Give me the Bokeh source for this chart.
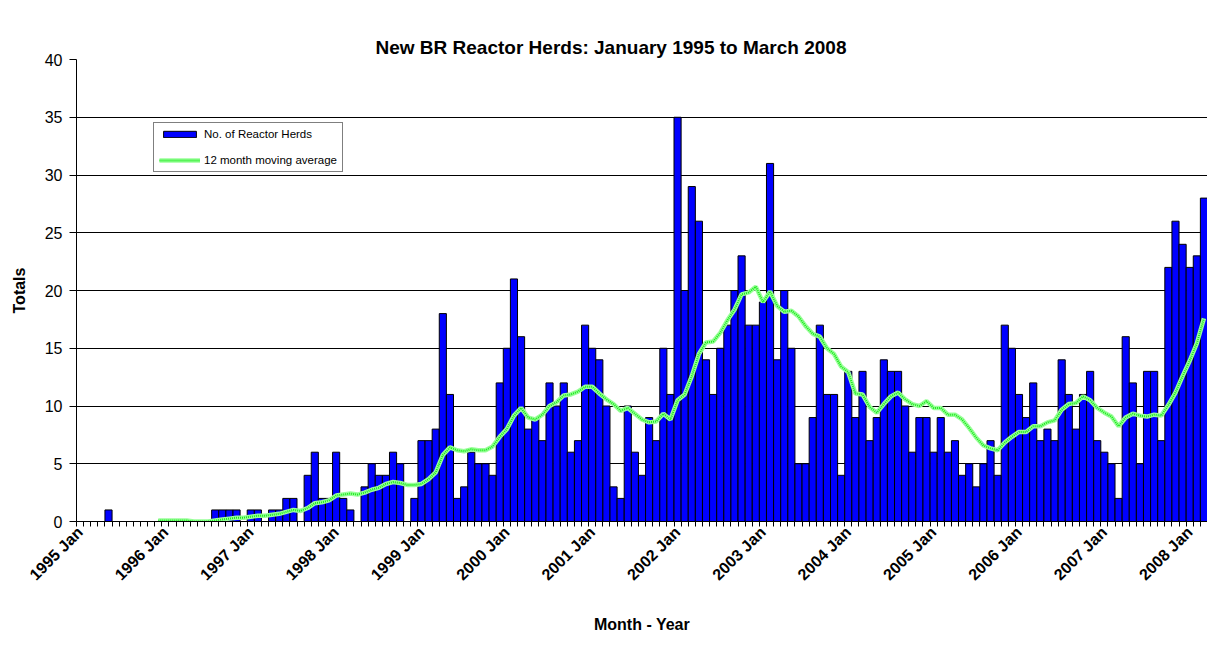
import math
import numpy as np
import pandas as pd
from bokeh.plotting import figure
from bokeh.models import (Range1d, FixedTicker, Legend, LegendItem, ColumnDataSource, Title,
                          LinearAxis)
from bokeh.embed import file_html
from bokeh.resources import INLINE

# ---------------- data ----------------
tick_years = list(range(1995, 2009))
tick_labels = [f"{y} Jan" for y in tick_years]

# monthly new BR reactor herds, Jan 1995 .. Mar 2008
herds_1995 = [0, 0, 0, 0, 1, 0, 0, 0, 0, 0, 0, 0]
herds_1996 = [0, 0, 0, 0, 0, 0, 0, 1, 1, 1, 1, 0]
herds_1997 = [1, 1, 0, 1, 1, 2, 2, 0, 4, 6, 2, 2]
herds_1998 = [6, 2, 1, 0, 3, 5, 4, 4, 6, 5, 0, 2]
herds_1999 = [7, 7, 8, 18, 11, 2, 3, 6, 5, 5, 4, 12]
herds_2000 = [15, 21, 16, 8, 9, 7, 12, 10, 12, 6, 7, 17]
herds_2001 = [15, 14, 10, 3, 2, 10, 6, 4, 9, 7, 15, 11]
herds_2002 = [35, 20, 29, 26, 14, 11, 15, 17, 20, 23, 17, 17]
herds_2003 = [19, 31, 14, 20, 15, 5, 5, 9, 17, 11, 11, 4]
herds_2004 = [13, 9, 13, 7, 9, 14, 13, 13, 10, 6, 9, 9]
herds_2005 = [6, 9, 6, 7, 4, 5, 3, 5, 7, 4, 17, 15]
herds_2006 = [11, 9, 12, 7, 8, 7, 14, 11, 8, 11, 13, 7]
herds_2007 = [6, 5, 2, 16, 12, 5, 13, 13, 7, 22, 26, 24]
herds_2008 = [22, 23, 28]

reactor_herds = (herds_1995 + herds_1996 + herds_1997 + herds_1998 + herds_1999 +
                 herds_2000 + herds_2001 + herds_2002 + herds_2003 + herds_2004 +
                 herds_2005 + herds_2006 + herds_2007 + herds_2008)
ma_period = 12

title_text = "New BR Reactor Herds: January 1995 to March 2008"
x_title = "Month - Year"
y_title = "Totals"

n = len(reactor_herds)
x_mid = np.arange(n) + 0.5
moving_avg = pd.Series(reactor_herds, dtype=float).rolling(ma_period).mean()

bar_src = ColumnDataSource(dict(x=x_mid, top=reactor_herds))
ma_src = ColumnDataSource(dict(x=x_mid[ma_period - 1:], y=moving_avg.values[ma_period - 1:]))

FONT = "Liberation Sans"

p = figure(width=1207, height=636, output_backend="svg", toolbar_location=None,
           x_range=Range1d(0, n), y_range=Range1d(0, 40),
           min_border_left=76, min_border_right=0, min_border_top=59, min_border_bottom=115)
p.background_fill_color = "white"
p.border_fill_color = "white"
p.outline_line_color = None
p.title.visible = False

main_title = Title(text=title_text, text_font=FONT, text_font_size="19px",
                   text_font_style="bold", text_color="black", align="left",
                   offset=299, vertical_align="bottom", standoff=4)
p.add_layout(main_title, "above")

# invisible spacer between the title and the frame (no ticks, no line)
spacer = LinearAxis(ticker=FixedTicker(ticks=[]), axis_line_color=None,
                    major_tick_line_color=None, minor_tick_line_color=None,
                    major_tick_out=26, major_tick_in=0, minor_tick_out=0,
                    major_label_standoff=0)
p.add_layout(spacer, "above")

# bars
bars = p.vbar(x="x", top="top", width=1.0, bottom=0, source=bar_src,
              fill_color="#0000FF", line_color="black", line_width=1)

# moving average (light green, patterned look)
ma_base = p.line(x="x", y="y", source=ma_src, line_color="#9AFF9A", line_width=4.5)
ma_dots = p.line(x="x", y="y", source=ma_src, line_color="#18E818", line_width=2,
                 line_dash="1 1")

# axes
major_x = [12 * k + 0.5 for k in range(len(tick_labels))]
xaxis = p.below[0]
xaxis.ticker = FixedTicker(ticks=major_x, minor_ticks=list(range(n + 1)))
xaxis.major_label_overrides = {t: lab for t, lab in zip(major_x, tick_labels)}
xaxis.major_label_orientation = math.pi / 4
xaxis.major_label_text_font = FONT
xaxis.major_label_text_font_size = "16px"
xaxis.major_label_text_font_style = "bold"
xaxis.major_label_text_color = "black"
xaxis.major_tick_line_color = None
xaxis.major_tick_out = 4
xaxis.major_tick_in = 0
xaxis.major_label_standoff = 3
xaxis.minor_tick_line_color = "black"
xaxis.minor_tick_out = 5
xaxis.minor_tick_in = 0
xaxis.axis_line_color = "black"
xaxis.axis_label = x_title
xaxis.axis_label_text_font = FONT
xaxis.axis_label_text_font_size = "16px"
xaxis.axis_label_text_font_style = "bold"
xaxis.axis_label_text_color = "black"
xaxis.axis_label_standoff = 24

p.yaxis.ticker = FixedTicker(ticks=list(range(0, 41, 5)))
p.yaxis.major_label_text_font = FONT
p.yaxis.major_label_text_font_size = "16px"
p.yaxis.major_label_text_color = "black"
p.yaxis.major_tick_out = 7
p.yaxis.major_tick_in = 0
p.yaxis.major_tick_line_color = "black"
p.yaxis.major_label_standoff = 7
p.yaxis.minor_tick_line_color = None
p.yaxis.axis_line_color = "black"
p.yaxis.axis_label = y_title
p.yaxis.axis_label_text_font = FONT
p.yaxis.axis_label_text_font_size = "16px"
p.yaxis.axis_label_text_font_style = "bold"
p.yaxis.axis_label_text_color = "black"
p.yaxis.axis_label_standoff = 14

p.xgrid.visible = False
p.ygrid.ticker = FixedTicker(ticks=list(range(5, 41, 5)))
p.ygrid.grid_line_color = "black"
p.ygrid.grid_line_width = 1

# legend
legend = Legend(items=[LegendItem(label="No. of Reactor Herds", renderers=[bars]),
                       LegendItem(label="12 month moving average", renderers=[ma_base, ma_dots])],
                location=(77, 349))
legend.label_text_font = FONT
legend.label_text_font_size = "11.5px"
legend.label_text_color = "black"
legend.glyph_width = 41
legend.glyph_height = 8
legend.label_height = 12
legend.label_standoff = 4
legend.spacing = 14
legend.padding = 5
legend.margin = 0
legend.border_line_color = "black"
legend.border_line_width = 1
legend.background_fill_color = "white"
legend.background_fill_alpha = 1
p.add_layout(legend)

open("out.html", "w").write(file_html(p, INLINE))
